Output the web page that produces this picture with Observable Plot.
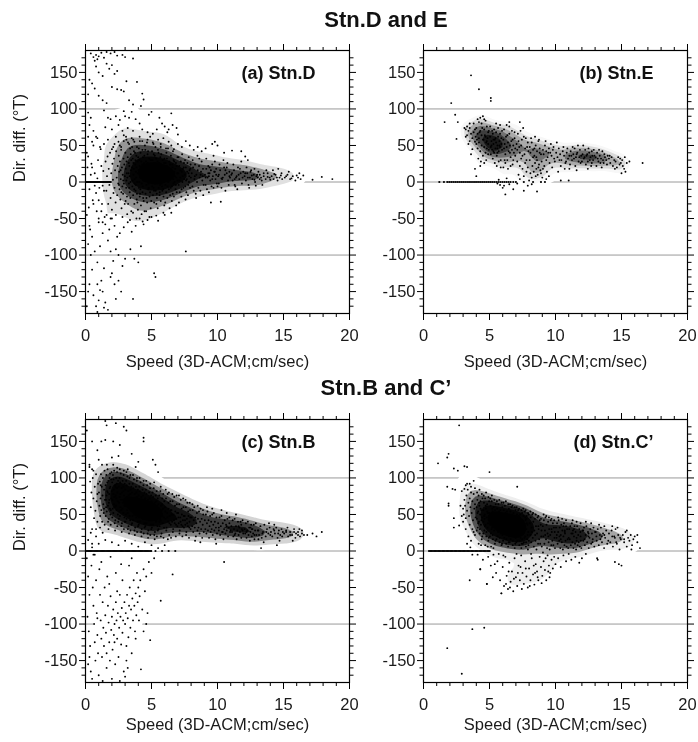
<!DOCTYPE html>
<html>
<head>
<meta charset="utf-8">
<script src="https://cdn.jsdelivr.net/npm/d3@7"></script>
<script src="https://cdn.jsdelivr.net/npm/@observablehq/plot@0.6"></script>
<style>
  body { margin: 0; background: #fff; font-family: "Liberation Sans", Arial, sans-serif; }
  #wrap { position: relative; width: 698px; height: 742px; overflow: hidden; background: #fff; }
  .title { position: absolute; left: 0; width: 772px; text-align: center; font-weight: bold; font-size: 22px; line-height: 26px; color: #111; }
  .panel { position: absolute; }
  .panel svg { display: block; max-width: none; background: transparent; }
</style>
</head>
<body>
<div id="wrap">
  <div class="title" style="top:7px">Stn.D and E</div>
  <div class="title" style="top:375px">Stn.B and C’</div>
  <div class="panel" id="pa" style="left:5px;top:38px"></div>
  <div class="panel" id="pb" style="left:343px;top:38px"></div>
  <div class="panel" id="pc" style="left:5px;top:407px"></div>
  <div class="panel" id="pd" style="left:343px;top:407px"></div>
</div>
<script>
// ---------- DATA (speed cm/s , direction difference deg) ----------
const titles = ["Stn.D and E", "Stn.B and C’"];
const panelLabels = ["(a) Stn.D", "(b) Stn.E", "(c) Stn.B", "(d) Stn.C’"];
const xTitle = "Speed (3D-ACM;cm/sec)";
const yTitle = "Dir. diff. (°T)";
const majorX = [0, 5, 10, 15, 20];
const minorX = [1, 2, 3, 4, 6, 7, 8, 9, 11, 12, 13, 14, 16, 17, 18, 19];
const majorY = [-150, -100, -50, 0, 50, 100, 150];
const minorY = [-170, -160, -140, -130, -120, -110, -90, -80, -70, -60, -40, -30, -20, -10, 10, 20, 30, 40, 60, 70, 80, 90, 110, 120, 130, 140, 160, 170];
const gridY = [-100, 0, 100];

const stnDZero = [0.03,0.1,0.17,0.24,0.31,0.38,0.45,0.52,0.59,0.66,0.73,0.8,0.87,0.94,1.01,1.08,1.15,1.22,1.29,1.36,1.43,1.5,1.57,1.64,1.71,1.78,1.85,1.92];
const stnEZero = [1.2,1.55,1.8,1.95,2.1,2.25,2.4,2.55,2.7,2.85,3.0,3.15,3.3,3.45,3.6,3.75,3.9,4.05,4.2,4.35,4.5,4.65,4.8,4.95,5.1,5.25,5.4,5.55,5.7,5.85,6.0,6.15,6.3,6.45,6.6,6.8,7.0,7.6,8.3,8.9,9.2];
const stnBZero = [0.03,0.12,0.21,0.3,0.39,0.48,0.57,0.66,0.75,0.84,0.93,1.02,1.11,1.2,1.29,1.38,1.47,1.56,1.65,1.74,1.83,1.92,2.01,2.1,2.19,2.28,2.37,2.46,2.55,2.64,2.73,2.82,2.91,3.0,3.09,3.18,3.27,3.36,3.45,3.54,3.63,3.72,3.81,3.9,3.99,4.08,4.17,4.26,4.35,4.44,4.53,4.62,4.71,4.8,4.89,4.98,5.3,5.8,6.3,6.8];
const stnCZero = [0.42,0.52,0.62,0.72,0.82,0.92,1.02,1.12,1.22,1.32,1.42,1.52,1.62,1.72,1.82,1.92,2.02,2.12,2.22,2.32,2.42,2.52,2.62,2.72,2.82,2.92,3.02,3.12,3.22,3.32,3.42,3.52,3.62,3.72,3.82,3.92,4.02,4.12,4.22,4.32,4.42,4.52,4.62,4.72,4.82,4.92,5.02];

const stnD = `
0.4,176 0.6,171 0.7,166 0.8,174 0.9,168 1.0,172 1.2,177 1.4,170 1.6,178 1.9,176 2.2,178 2.4,173 2.8,174 3.0,171 3.6,169
0.3,140 0.5,135 0.8,158 1.0,150 1.3,145 1.6,162 1.8,155 2.0,160 2.2,148 2.4,152 3.1,138 3.9,137
0.2,120 0.7,128 1.0,118 1.3,112 1.6,108 2.0,130 2.4,127 2.7,126 2.9,124 3.3,112 3.6,106 4.3,121 4.4,113 4.2,104 3.5,96 2.9,97
0.2,95 0.4,88 0.3,78 0.2,62 0.6,70 1.4,98 1.7,88 1.9,86 2.3,90 2.6,85 3.0,90 3.3,88 3.8,86 4.1,80 4.8,92 5.0,96 5.6,88 6.5,94 5.8,80 6.0,76 6.3,72 6.6,78 6.9,74 1.5,75 2.0,72 2.5,78 2.8,70 3.2,74 3.6,70 4.3,72 4.7,68 5.1,66 5.4,72 6.2,68 7.0,65
0.5,55 0.9,60 1.1,48 1.4,52 1.7,58 2.0,45 2.3,62 2.5,55 2.7,48 2.9,64 3.1,58 3.3,52 3.5,60 3.7,55 3.9,48 4.1,62 4.3,56 4.5,50 4.7,58 4.9,62 5.1,54 5.3,48 5.5,58 5.7,52 5.9,60 6.1,46 6.3,55 6.5,50 6.7,45 7.0,52 7.3,48 7.6,56 7.9,50 8.2,44 8.5,48 8.8,42 9.1,46 9.6,52 9.8,55 10.0,50 10.5,40 11.1,43 11.8,42 12.1,35 12.3,30
1.52,28 1.58,-12 1.63,8 1.67,35 1.72,-30 1.76,18 1.81,-4 1.86,40 1.9,-22 1.95,12 2.0,-38 2.04,25 2.08,3 2.12,-15 2.16,32 2.2,-8 2.24,16 2.28,-28 2.32,42 2.36,6 2.4,-18 2.44,22 2.48,-2 2.1,48 2.3,-45 1.9,-50 2.2,52
2.52,36 2.55,14 2.58,-10 2.61,28 2.64,-24 2.67,4 2.7,44 2.73,-36 2.76,20 2.79,-6 2.82,10 2.85,-16 2.88,32 2.91,-2 2.94,24 2.97,-30 2.6,50 2.8,-48 2.9,56 2.53,-4 2.66,16 2.72,-14 2.86,2 2.98,8
3.02,40 3.05,18 3.08,-8 3.11,28 3.14,-20 3.17,6 3.2,34 3.23,-30 3.26,12 3.29,-2 3.32,22 3.35,-14 3.38,46 3.41,0 3.44,16 3.47,-40 3.04,-26 3.1,2 3.16,-44 3.22,54 3.28,26 3.34,8 3.4,-22 3.46,30 3.13,12 3.31,-8 3.43,38 3.07,62 3.37,-52
3.52,20 3.55,-6 3.58,32 3.61,-18 3.64,10 3.67,42 3.7,-30 3.73,4 3.76,24 3.79,-12 3.82,14 3.85,36 3.88,-24 3.91,0 3.94,28 3.97,-38 3.53,48 3.6,-42 3.66,18 3.72,-2 3.78,30 3.84,6 3.9,-16 3.96,12 3.56,2 3.63,26 3.69,-10 3.75,40 3.81,-4 3.87,20 3.93,-28 3.99,34 3.62,58 3.86,-50
4.02,16 4.05,-8 4.08,30 4.11,-20 4.14,6 4.17,40 4.2,-32 4.23,12 4.26,-2 4.29,24 4.32,-14 4.35,34 4.38,2 4.41,-26 4.44,18 4.47,-40 4.04,46 4.1,22 4.16,-10 4.22,28 4.28,8 4.34,-6 4.4,14 4.46,36 4.07,0 4.13,-16 4.19,20 4.25,-44 4.31,44 4.37,-22 4.43,26 4.49,4 4.12,56 4.33,-54
4.52,10 4.55,-16 4.58,28 4.61,-4 4.64,20 4.67,-28 4.7,38 4.73,6 4.76,-10 4.79,16 4.82,32 4.85,-20 4.88,2 4.91,24 4.94,-36 4.97,12 4.53,44 4.59,-40 4.65,8 4.71,26 4.77,-2 4.83,18 4.89,-14 4.95,30 4.56,4 4.62,-22 4.68,14 4.74,42 4.8,-8 4.86,22 4.92,0 4.98,-26 4.66,54 4.84,-48
5.02,18 5.05,-6 5.08,30 5.11,-18 5.14,8 5.17,38 5.2,-28 5.23,14 5.26,0 5.29,24 5.32,-12 5.35,32 5.38,4 5.41,-22 5.44,20 5.47,-36 5.04,42 5.1,10 5.16,-8 5.22,26 5.28,-2 5.34,16 5.4,-16 5.46,28 5.07,2 5.13,22 5.19,-12 5.25,36 5.31,6 5.37,-30 5.43,12 5.49,44 5.15,52 5.36,-46
5.52,12 5.55,-8 5.58,26 5.61,-18 5.64,4 5.67,34 5.7,-26 5.73,16 5.76,-2 5.79,22 5.82,-12 5.85,30 5.88,6 5.91,-20 5.94,18 5.97,-32 5.53,40 5.59,8 5.65,-4 5.71,24 5.77,2 5.83,14 5.89,-10 5.95,26 5.56,20 5.62,-14 5.68,10 5.74,38 5.8,-6 5.86,16 5.92,0 5.98,32 5.7,48 5.9,-42
6.02,14 6.05,-4 6.08,26 6.11,-14 6.14,6 6.17,32 6.2,-22 6.23,12 6.26,0 6.29,20 6.32,-10 6.35,28 6.38,4 6.41,-18 6.44,16 6.47,36 6.04,-28 6.1,8 6.16,22 6.22,-6 6.28,14 6.34,2 6.4,24 6.46,-8 6.13,40 6.37,-36 6.25,46
6.52,10 6.55,-6 6.58,24 6.61,-16 6.64,4 6.67,30 6.7,-20 6.73,14 6.76,0 6.79,18 6.82,-10 6.85,26 6.88,6 6.91,-14 6.94,12 6.97,34 6.54,-26 6.6,20 6.66,-2 6.72,28 6.78,8 6.84,-4 6.9,22 6.96,2 6.63,42 6.87,-32
7.02,12 7.06,-4 7.1,22 7.14,-14 7.18,6 7.22,28 7.26,-20 7.3,14 7.34,0 7.38,18 7.42,-8 7.46,26 7.04,34 7.12,2 7.2,16 7.28,-10 7.36,8 7.44,20 7.08,-28 7.32,38 7.48,4
7.52,10 7.56,-6 7.6,20 7.64,-14 7.68,4 7.72,26 7.76,-18 7.8,12 7.84,0 7.88,16 7.92,-8 7.96,24 7.54,30 7.62,2 7.7,14 7.78,-4 7.86,8 7.94,18 7.58,-24 7.82,34 7.98,6
8.05,12 8.1,-6 8.15,20 8.2,-12 8.25,4 8.3,24 8.35,-16 8.4,10 8.45,0 8.5,16 8.55,-8 8.6,22 8.65,6 8.7,-12 8.75,14 8.8,28 8.85,2 8.9,18 8.95,-4 8.12,30 8.38,-22 8.62,32 8.88,8 8.28,8 8.72,10 8.48,36 8.92,-18
9.05,10 9.1,-4 9.15,18 9.2,-10 9.25,6 9.3,22 9.35,-14 9.4,12 9.45,2 9.5,16 9.55,-6 9.6,24 9.65,8 9.7,-8 9.75,14 9.8,28 9.85,4 9.9,18 9.95,-2 9.15,32 9.5,-28 9.7,36 9.35,8 9.9,10
10.05,8 10.1,-2 10.2,16 10.3,-8 10.4,6 10.5,20 10.6,-12 10.7,12 10.8,2 10.9,14 10.15,24 10.35,4 10.55,10 10.75,26 10.95,6 10.25,-27 10.45,30 10.85,-4
11.05,10 11.15,2 11.25,16 11.35,-6 11.45,8 11.55,20 11.65,4 11.75,12 11.85,-2 11.95,14 11.2,24 11.5,-10 11.8,28 11.4,6 11.7,18
12.05,8 12.15,2 12.25,12 12.35,-4 12.45,6 12.55,16 12.65,4 12.75,10 12.85,0 12.95,8 12.2,20 12.5,14 12.8,18 12.4,-8 12.9,-5
13.05,6 13.2,10 13.35,2 13.5,8 13.65,4 13.8,12 13.95,6 13.1,14 13.4,-4 13.7,16 13.3,6
14.1,8 14.25,4 14.4,10 14.55,2 14.7,6 14.85,12 14.2,16 14.6,18 14.9,4
15.1,6 15.3,10 15.5,4 15.7,8 15.9,2 16.1,6 16.3,4 16.5,9 16.2,12 17.2,3 17.9,7 18.7,4 15.4,14
9.1,6 9.3,12 9.6,4 9.8,14 10.1,10 10.3,5 10.6,16 10.9,8 11.1,12 11.3,4 11.6,10 11.9,6 12.1,12 12.3,6 12.6,9 12.8,3 13.0,10 13.2,4 13.5,12 13.8,7 14.0,3 14.3,11 14.5,6 14.8,9 15.2,8 15.6,5 16.0,9 9.4,20 10.0,-6 10.7,20 11.3,-4
0.1,40 0.15,20 0.3,-10 0.45,25 0.55,-25 0.7,12 0.85,-40 0.95,30 1.05,-8 1.15,45 1.25,-30 1.35,15 1.45,-48 0.25,-35 0.6,50 0.9,5 1.2,22 1.4,-12 1.0,-55 0.8,62 0.35,-65 1.3,-5
0.1,-45 0.3,-60 0.2,-85 0.4,-100 0.5,-120 0.3,-140 0.6,-155 0.8,-170 0.9,-178 1.0,-162 1.1,-148 1.2,-135 1.3,-150 1.4,-172 1.5,-165 1.7,-175 0.7,-95 0.9,-110 1.1,-88 1.3,-70 1.5,-58 1.7,-80 1.9,-95 2.1,-108 2.3,-92 2.5,-100 2.0,-125 2.2,-140 2.5,-135 2.7,-150 2.3,-160 2.8,-115 3.0,-105 3.4,-92 3.6,-160 3.7,-105 4.2,-88 4.0,-110 2.6,-70 2.9,-62 3.2,-55 3.5,-68 3.8,-60 4.1,-50 4.4,-58 4.7,-52 5.0,-48 5.5,-53 6.0,-45 6.5,-42 5.2,-125 5.3,-130 7.6,-95 1.0,-50 1.2,-40 0.6,-30 0.8,-15 0.4,10 0.2,35 0.5,20 0.7,-5 1.0,-25 1.3,-55 1.6,-45 1.8,-65 2.0,-50 2.2,-60 2.4,-75 1.9,-130 0.9,-140 1.4,-118 0.5,-75 0.2,-150 0.1,-170
`;

const stnE = `
3.6,146 4.2,127 5.1,115 5.1,111 2.1,108 2.4,92 2.6,82 1.6,82 2.5,59 3.9,18 4.0,8 7.3,82 6.5,82
5.6,-2 5.8,-4 6.0,-8 6.2,-17 6.1,-5 6.5,-3 6.8,-10 7.1,-2 7.6,-12 7.9,-5 8.2,-3 8.6,-13 5.7,3 6.3,5 7.3,4 8.0,2 9.0,6 9.3,4 10.4,2 11.0,2
3.1,74 3.2,72 3.3,76 3.4,70 3.5,74 3.3,64 3.6,66 3.7,60 3.5,56 3.2,62 3.8,68 3.9,72 3.4,52 3.7,45 3.6,38 3.9,55 3.8,80 3.95,62 3.5,80
4.1,86 4.3,88 4.5,90 4.6,86 4.7,84 4.2,82 4.4,80 4.0,74 4.1,66 4.2,60 4.3,70 4.4,64 4.5,58 4.6,72 4.7,62 4.8,56 4.9,68 4.0,52 4.1,46 4.2,54 4.3,42 4.4,50 4.5,36 4.6,48 4.7,40 4.8,46 4.9,52 4.15,32 4.35,28 4.55,58 4.75,54 4.95,44 4.25,68 4.65,64 4.85,60 4.45,74 4.05,58 4.9,38 4.3,22 4.6,26 4.8,76 4.95,70 4.75,30
5.05,62 5.1,48 5.15,56 5.2,44 5.25,66 5.3,52 5.35,40 5.4,58 5.45,46 5.5,54 5.55,36 5.6,50 5.65,62 5.7,42 5.75,56 5.8,48 5.85,30 5.9,52 5.95,44 5.05,76 5.2,70 5.35,72 5.5,68 5.65,74 5.8,66 5.95,70 5.1,38 5.25,32 5.4,26 5.55,22 5.7,28 5.85,20 5.15,50 5.3,58 5.45,60 5.6,46 5.75,50 5.9,60 5.5,80 5.8,78 5.3,42 5.6,40
6.05,58 6.1,46 6.15,52 6.2,38 6.25,62 6.3,48 6.35,30 6.4,54 6.45,42 6.5,66 6.55,50 6.6,34 6.65,56 6.7,44 6.75,24 6.8,50 6.85,40 6.9,60 6.95,46 6.1,72 6.3,78 6.5,76 6.7,70 6.9,68 6.2,26 6.4,18 6.6,22 6.8,30 6.05,20 6.35,64 6.75,58 6.95,36 6.55,40 6.15,30
7.05,52 7.1,44 7.2,56 7.3,40 7.4,50 7.5,36 7.6,62 7.7,46 7.8,30 7.9,54 7.15,66 7.35,70 7.55,74 7.75,60 7.95,42 7.1,28 7.3,22 7.5,18 7.7,26 7.9,20 7.25,48 7.45,58 7.65,38 7.85,48 7.4,32 7.8,14 7.2,10 7.6,8
8.05,48 8.1,40 8.2,54 8.3,44 8.4,36 8.5,50 8.6,42 8.7,56 8.8,46 8.9,38 8.15,60 8.45,62 8.75,58 8.05,30 8.25,22 8.35,14 8.45,26 8.55,18 8.65,10 8.75,24 8.85,16 8.95,28 8.1,12 8.5,8 8.7,20 8.9,12 8.3,34 8.6,30 8.4,46 8.8,40 8.2,6 8.55,34
9.05,44 9.1,38 9.2,50 9.3,42 9.4,34 9.5,46 9.6,40 9.7,36 9.8,44 9.9,32 9.15,22 9.35,14 9.55,26 9.75,20 9.95,28 9.25,56 9.65,52 9.45,40 9.85,48 9.05,18 9.5,8 9.3,30
10.05,40 10.15,34 10.25,46 10.35,38 10.45,30 10.55,42 10.65,36 10.75,26 10.85,40 10.95,32 10.1,54 10.4,22 10.7,18 10.9,46 10.2,14 10.6,48 10.3,30 10.8,28
11.05,36 11.15,42 11.25,30 11.35,38 11.45,46 11.55,34 11.65,40 11.75,28 11.85,44 11.95,36 11.1,24 11.3,48 11.5,22 11.7,50 11.9,26 11.2,36 11.4,32 11.6,38 11.8,34 11.05,18 11.6,16
12.05,38 12.15,32 12.25,44 12.35,36 12.45,28 12.55,40 12.65,34 12.75,42 12.85,30 12.95,36 12.1,50 12.3,24 12.5,46 12.7,22 12.9,44 12.2,34 12.4,38 12.6,30 12.8,36 12.0,28 12.45,18 12.75,26
13.05,34 13.15,40 13.25,28 13.35,36 13.45,32 13.55,42 13.65,26 13.75,34 13.85,30 13.95,36 13.1,22 13.3,44 13.5,20 13.7,38 13.9,24 13.2,32 13.6,30 13.4,26
14.05,32 14.15,26 14.25,34 14.35,22 14.45,30 14.55,28 14.65,20 14.75,34 14.85,24 14.95,26 14.1,36 14.5,18 14.9,32 15.05,30 15.1,22 15.2,18 15.3,14 15.4,26 15.6,28 15.25,34 15.0,12 16.6,26
`;

const stnB = `
1.5,178 1.6,172 2.3,175 2.9,170 3.1,165 0.1,165 0.5,150 0.9,138 1.2,150 1.5,152 2.1,150 2.6,145 3.5,133 4.4,155 4.4,150 0.3,118 0.5,112 1.0,125 2.0,128 2.5,130 3.2,112 3.8,115 4.0,122 5.1,125 5.3,118 5.5,108
0.35,95 0.4,60 0.45,80 0.5,30 0.55,100 0.6,72 0.65,45 0.7,88 0.75,55 0.8,105 0.85,68 0.9,40 0.95,92 0.4,25 0.6,110 0.8,20 0.3,115 0.5,10 0.7,-5 0.9,78
1.02,80 1.05,62 1.08,95 1.11,48 1.14,72 1.17,105 1.2,56 1.23,88 1.26,40 1.29,76 1.32,100 1.35,64 1.38,52 1.41,84 1.44,110 1.47,70 1.1,32 1.3,25 1.45,36 1.25,118 1.15,90 1.4,58
1.52,90 1.55,70 1.58,104 1.61,54 1.64,82 1.67,112 1.7,62 1.73,96 1.76,44 1.79,78 1.82,100 1.85,58 1.88,88 1.91,36 1.94,72 1.97,108 1.53,48 1.59,76 1.65,94 1.71,40 1.77,66 1.83,86 1.89,50 1.95,98 1.56,60 1.62,118 1.68,80 1.74,30 1.8,70 1.86,106 1.92,56 1.98,82
2.02,94 2.05,70 2.08,104 2.11,52 2.14,84 2.17,110 2.2,60 2.23,90 2.26,42 2.29,76 2.32,100 2.35,56 2.38,86 2.41,34 2.44,68 2.47,96 2.03,46 2.09,78 2.15,64 2.21,38 2.27,88 2.33,72 2.39,108 2.45,50 2.06,58 2.12,98 2.18,74 2.24,28 2.3,62 2.36,92 2.42,80 2.48,40 2.1,118 2.4,114
2.52,88 2.55,66 2.58,100 2.61,48 2.64,78 2.67,106 2.7,56 2.73,86 2.76,38 2.79,70 2.82,96 2.85,52 2.88,82 2.91,30 2.94,62 2.97,92 2.53,44 2.59,74 2.65,60 2.71,34 2.77,80 2.83,66 2.89,104 2.95,46 2.56,54 2.62,94 2.68,70 2.74,26 2.8,58 2.86,88 2.92,76 2.98,40 2.6,112 2.9,110
3.02,84 3.05,62 3.08,96 3.11,44 3.14,74 3.17,102 3.2,52 3.23,82 3.26,34 3.29,66 3.32,92 3.35,48 3.38,78 3.41,28 3.44,58 3.47,88 3.03,40 3.09,70 3.15,56 3.21,30 3.24,60 3.27,76 3.33,100 3.39,42 3.45,66 3.06,50 3.12,90 3.18,64 3.3,24 3.36,72 3.42,84 3.48,36 3.1,108 3.4,104
3.52,80 3.55,58 3.58,92 3.61,42 3.64,70 3.67,98 3.7,50 3.73,78 3.76,32 3.79,62 3.82,88 3.85,46 3.88,74 3.91,26 3.94,56 3.97,84 3.53,38 3.59,66 3.65,52 3.71,28 3.77,72 3.83,60 3.89,96 3.95,40 3.56,48 3.62,86 3.68,62 3.74,22 3.8,54 3.86,80 3.92,68 3.98,34 3.6,104 3.9,100
4.02,76 4.05,56 4.08,88 4.11,40 4.14,66 4.17,94 4.2,48 4.23,74 4.26,30 4.29,58 4.32,84 4.35,44 4.38,70 4.41,24 4.44,52 4.47,80 4.03,36 4.09,62 4.15,50 4.21,26 4.27,68 4.33,56 4.39,90 4.45,38 4.06,46 4.12,82 4.18,60 4.24,20 4.3,50 4.36,76 4.42,64 4.48,32 4.1,100 4.4,96
4.52,72 4.55,52 4.58,84 4.61,38 4.64,62 4.67,90 4.7,46 4.73,70 4.76,28 4.79,56 4.82,80 4.85,42 4.88,66 4.91,22 4.94,50 4.97,76 4.53,34 4.59,60 4.65,48 4.71,24 4.77,64 4.83,54 4.89,86 4.95,36 4.56,44 4.62,78 4.68,58 4.74,18 4.8,48 4.86,72 4.92,60 4.98,30 4.6,96 4.9,92
5.02,68 5.05,50 5.08,80 5.11,36 5.14,58 5.17,86 5.2,44 5.23,66 5.26,26 5.29,52 5.32,76 5.35,40 5.38,62 5.41,20 5.44,48 5.47,72 5.03,32 5.09,56 5.15,46 5.21,22 5.27,60 5.33,52 5.39,82 5.45,34 5.06,42 5.12,74 5.18,54 5.24,16 5.3,46 5.36,68 5.42,56 5.48,28 5.2,94
5.52,64 5.55,46 5.58,76 5.61,34 5.64,56 5.67,82 5.7,42 5.73,62 5.76,24 5.79,50 5.82,72 5.85,38 5.88,58 5.91,18 5.94,46 5.97,68 5.53,30 5.59,52 5.65,44 5.71,20 5.77,56 5.83,48 5.89,78 5.95,32 5.6,40 5.8,64 5.7,88
6.02,60 6.06,44 6.1,72 6.14,32 6.18,52 6.22,78 6.26,40 6.3,58 6.34,22 6.38,48 6.42,68 6.46,36 6.04,54 6.12,28 6.2,46 6.28,66 6.36,38 6.44,56 6.08,84 6.32,80 6.48,18 6.24,16
6.52,56 6.56,40 6.6,68 6.64,30 6.68,50 6.72,74 6.76,38 6.8,54 6.84,20 6.88,44 6.92,64 6.96,34 6.54,50 6.62,26 6.7,42 6.78,62 6.86,36 6.94,52 6.58,78 6.9,76
7.02,52 7.06,38 7.1,64 7.14,28 7.18,46 7.22,70 7.26,36 7.3,50 7.34,20 7.38,42 7.42,60 7.46,32 7.04,46 7.12,24 7.2,40 7.28,58 7.36,34 7.44,48 7.08,76 7.4,72
7.52,48 7.56,36 7.6,60 7.64,26 7.68,44 7.72,66 7.76,34 7.8,48 7.84,18 7.88,40 7.92,56 7.96,30 7.54,42 7.62,22 7.7,38 7.78,54 7.86,32 7.94,46 7.58,70 7.9,66
8.04,46 8.08,34 8.12,56 8.16,26 8.2,42 8.24,60 8.28,32 8.32,46 8.36,20 8.4,38 8.44,52 8.48,28 8.52,44 8.56,32 8.6,54 8.64,24 8.68,40 8.72,58 8.76,30 8.8,44 8.84,18 8.88,36 8.92,50 8.96,26 8.1,64 8.5,62 8.9,56 8.3,14 8.7,12
9.04,42 9.08,30 9.12,50 9.16,24 9.2,38 9.24,54 9.28,28 9.32,42 9.36,18 9.4,34 9.44,48 9.48,26 9.52,40 9.56,30 9.6,50 9.64,22 9.68,36 9.72,52 9.76,28 9.8,40 9.84,16 9.88,32 9.92,46 9.96,24 9.2,60 9.6,58 9.9,10
10.05,38 10.1,28 10.15,46 10.2,22 10.25,34 10.3,48 10.35,26 10.4,38 10.45,16 10.5,30 10.55,42 10.6,24 10.65,36 10.7,28 10.75,44 10.8,20 10.85,32 10.9,46 10.95,26 10.3,56 10.7,52 10.5,-15
11.05,34 11.1,26 11.15,42 11.2,20 11.25,30 11.3,44 11.35,24 11.4,34 11.45,16 11.5,28 11.55,40 11.6,22 11.65,32 11.7,26 11.75,40 11.8,18 11.85,30 11.9,42 11.95,24 11.4,50
12.05,30 12.1,24 12.15,38 12.2,18 12.25,28 12.3,40 12.35,22 12.4,32 12.45,14 12.5,26 12.55,36 12.6,20 12.65,30 12.7,24 12.75,36 12.8,16 12.85,28 12.9,38 12.95,22
13.05,28 13.15,22 13.25,34 13.35,18 13.45,26 13.55,36 13.65,20 13.75,30 13.85,24 13.95,32 13.1,16 13.5,12 13.9,38 13.3,4
14.05,26 14.15,20 14.25,30 14.35,24 14.45,32 14.55,18 14.65,28 14.75,22 14.85,30 14.95,26 14.3,36 14.7,14 14.5,8
15.05,24 15.2,28 15.35,20 15.5,26 15.65,22 15.8,30 15.95,24 16.1,26 16.25,20 16.4,28 16.55,22 15.3,32 15.9,18 16.2,30 16.8,22 17.2,24 17.5,20 17.9,26 15.7,14
10.1,32 10.4,26 10.7,34 11.0,28 11.3,22 11.6,34 11.9,28 12.2,26 12.5,32 12.8,22 13.1,28 13.4,24 13.7,26 14.0,22 14.3,28 14.6,24 14.9,20 15.2,26 15.5,22 15.8,26 16.1,22 16.4,24 10.9,38 11.8,36 12.6,30
0.2,15 0.5,5 1.0,10 1.5,15 2.0,12 2.5,8 3.0,14 3.5,10 4.0,6 4.5,12 5.0,8 5.5,4 6.0,8 0.8,30
0.1,-10 0.2,-35 0.3,-60 0.15,-90 0.25,-110 0.35,-130 0.4,-165 0.5,-175 0.2,-155 0.45,-20 0.55,-50 0.6,-75 0.65,-100 0.7,-125 0.75,-150 0.8,-40 0.85,-85 0.9,-115 0.95,-140 1.0,-170 1.05,-25 1.1,-60 1.15,-95 1.2,-120 1.25,-145 1.3,-70 1.35,-105 1.4,-130 1.45,-50 1.5,-88 1.55,-112 1.6,-160 1.65,-35 1.7,-75 1.75,-98 1.8,-125 1.85,-150 1.9,-62 1.95,-108 2.0,-90 2.05,-135 2.1,-80 2.15,-115 2.2,-100 2.25,-155 2.3,-70 2.35,-95 2.4,-120 2.45,-85 2.5,-145 2.55,-105 2.6,-60 2.65,-90 2.7,-128 2.75,-78 2.8,-112 2.85,-95 2.9,-165 2.95,-70 3.0,-100 3.05,-85 3.1,-130 3.15,-60 3.2,-92 3.25,-118 3.3,-75 3.35,-50 3.4,-105 3.45,-80 3.5,-140 3.55,-65 3.6,-95 3.65,-40 3.7,-75 3.75,-110 3.8,-58 3.85,-88 3.9,-30 3.95,-70 4.0,-50 4.05,-95 4.1,-62 4.15,-40 4.2,-162 4.3,-80 4.4,-25 4.5,-55 4.6,-35 4.7,-85 4.8,-15 4.9,-122 5.0,-30 5.2,-10 5.7,-68 6.6,-32 1.2,-15 1.8,-45 2.3,-30 2.8,-40 3.3,-20 0.6,-5 2.0,-175 3.0,-172 2.6,-178 3.2,-160 1.3,-178 2.4,-55 1.6,-140 0.3,-145 0.9,-92 2.2,-125 3.1,-150 3.8,-120 2.7,-18 3.5,-10 1.9,-8 4.4,-110 4.6,-100
`;

const stnC = `
2.7,172 1.1,120 1.8,128 1.9,133 2.3,113 2.6,110 3.1,116 3.3,115 5.0,108 1.8,88 2.2,85 2.4,84 2.9,82 3.2,90 3.5,92 3.8,96 7.1,88 1.9,62 1.9,65 2.3,45 2.3,32 3.7,-5 3.5,-40 3.7,-107 4.6,-105 1.8,-133 2.9,-168 4.3,-25 4.8,-45 5.9,-58
3.0,58 3.05,50 3.1,70 3.15,62 3.2,45 3.25,76 3.3,55 3.35,84 3.4,66 3.45,48 3.5,72 3.55,60 3.6,88 3.65,52 3.7,68 3.75,42 3.8,78 3.85,58 3.9,64 3.95,46 3.0,40 3.2,30 3.4,20 3.6,14 3.8,26 3.1,85 3.3,92 3.6,80 3.9,86 2.8,62 2.9,48 2.7,35 3.5,36 3.7,30 3.9,22 3.3,10 3.55,5
4.02,60 4.05,44 4.08,70 4.11,32 4.14,54 4.17,76 4.2,40 4.23,62 4.26,24 4.29,50 4.32,68 4.35,36 4.38,56 4.41,16 4.44,46 4.47,72 4.03,28 4.09,52 4.15,38 4.21,66 4.27,30 4.33,58 4.39,42 4.45,20 4.06,80 4.24,84 4.42,78 4.18,10 4.36,8
4.52,56 4.55,40 4.58,66 4.61,28 4.64,50 4.67,72 4.7,36 4.73,58 4.76,20 4.79,46 4.82,64 4.85,32 4.88,52 4.91,14 4.94,42 4.97,68 4.53,24 4.59,48 4.65,34 4.71,62 4.77,26 4.83,54 4.89,38 4.95,18 4.56,76 4.74,80 4.92,74 4.68,8 4.86,6 4.62,44
5.02,52 5.05,36 5.08,62 5.11,24 5.14,46 5.17,68 5.2,32 5.23,54 5.26,16 5.29,42 5.32,60 5.35,28 5.38,48 5.41,10 5.44,38 5.47,64 5.03,20 5.09,44 5.15,30 5.21,58 5.24,22 5.27,40 5.33,50 5.39,34 5.45,14 5.06,72 5.18,76 5.36,70 5.12,6 5.3,4 5.42,56
5.52,48 5.55,32 5.58,58 5.61,20 5.64,42 5.67,64 5.7,28 5.73,50 5.76,12 5.79,38 5.82,56 5.85,24 5.88,44 5.91,8 5.94,34 5.97,60 5.53,16 5.59,40 5.65,26 5.71,54 5.77,18 5.83,46 5.89,30 5.95,10 5.56,68 5.74,70 5.92,66 5.62,36 5.8,52 5.98,22
6.02,46 6.05,30 6.08,56 6.11,18 6.14,40 6.17,62 6.2,26 6.23,48 6.26,10 6.29,36 6.32,54 6.35,22 6.38,42 6.41,6 6.44,32 6.47,58 6.03,14 6.09,38 6.15,24 6.21,52 6.27,16 6.33,44 6.39,28 6.45,12 6.06,66 6.24,68 6.42,64 6.12,34 6.3,50 6.48,20
6.52,44 6.55,28 6.58,54 6.61,16 6.64,38 6.67,60 6.7,24 6.73,46 6.76,8 6.79,34 6.82,52 6.85,20 6.88,40 6.91,4 6.94,30 6.97,56 6.53,12 6.59,36 6.65,22 6.71,50 6.77,14 6.83,42 6.89,26 6.95,10 6.56,64 6.74,62 6.92,60 6.62,32 6.8,48 6.98,18
7.02,42 7.05,26 7.08,50 7.11,14 7.14,36 7.17,56 7.2,22 7.23,44 7.26,8 7.29,32 7.32,50 7.35,18 7.38,38 7.41,4 7.44,28 7.47,52 7.03,12 7.09,34 7.15,20 7.21,48 7.27,14 7.33,40 7.39,24 7.45,10 7.06,60 7.24,58 7.42,56 7.12,30 7.3,46 7.48,16
7.52,40 7.55,24 7.58,48 7.61,12 7.64,34 7.67,54 7.7,20 7.73,42 7.76,6 7.79,30 7.82,48 7.85,16 7.88,36 7.91,2 7.94,26 7.97,50 7.53,10 7.59,32 7.65,18 7.71,46 7.77,12 7.83,38 7.89,22 7.95,8 7.56,58 7.74,56 7.92,52 7.62,28 7.8,44 7.98,14
8.04,38 8.08,22 8.12,46 8.16,12 8.2,32 8.24,50 8.28,18 8.32,40 8.36,6 8.4,28 8.44,44 8.48,14 8.52,34 8.56,2 8.6,24 8.64,46 8.68,10 8.72,30 8.76,16 8.8,42 8.84,10 8.88,36 8.92,20 8.96,6 8.1,54 8.3,52 8.5,50 8.7,48 8.9,44 8.22,26 8.46,22 8.7,34 8.94,28
9.04,34 9.08,20 9.12,42 9.16,10 9.2,28 9.24,46 9.28,16 9.32,36 9.36,4 9.4,24 9.44,40 9.48,12 9.52,30 9.56,2 9.6,22 9.64,42 9.68,8 9.72,26 9.76,14 9.8,38 9.84,8 9.88,32 9.92,18 9.96,4 9.1,50 9.3,48 9.5,46 9.7,44 9.9,42 9.22,22 9.46,20 9.7,30 9.94,26
10.04,32 10.08,18 10.12,38 10.16,10 10.2,26 10.24,42 10.28,14 10.32,32 10.36,4 10.4,22 10.44,36 10.48,12 10.52,28 10.56,2 10.6,20 10.64,38 10.68,8 10.72,24 10.76,14 10.8,34 10.84,6 10.88,30 10.92,16 10.96,4 10.2,46 10.5,44 10.8,42 10.3,20 10.7,26
11.04,30 11.08,16 11.12,34 11.16,8 11.2,24 11.24,38 11.28,12 11.32,28 11.36,4 11.4,20 11.44,34 11.48,10 11.52,26 11.56,2 11.6,18 11.64,34 11.68,8 11.72,22 11.76,12 11.8,30 11.84,6 11.88,26 11.92,14 11.96,4 11.3,42 11.6,40 11.9,38
12.04,28 12.1,14 12.16,32 12.22,8 12.28,22 12.34,34 12.4,12 12.46,26 12.52,4 12.58,18 12.64,30 12.7,10 12.76,24 12.82,16 12.88,32 12.94,6 12.3,40 12.7,38 12.5,20
13.05,26 13.12,14 13.2,30 13.28,8 13.36,22 13.44,32 13.52,12 13.6,24 13.68,4 13.76,18 13.84,28 13.92,10 13.3,36 13.7,34 13.5,20 13.2,-12 13.15,-10
14.05,24 14.15,12 14.25,28 14.35,6 14.45,20 14.55,30 14.65,10 14.75,22 14.85,2 14.95,16 14.3,34 14.7,32 14.5,18 14.5,-15 14.8,-18 15.0,-20
15.1,22 15.2,12 15.3,26 15.4,6 15.5,18 15.6,14 15.7,22 15.8,8 15.9,16 16.0,20 16.2,12 15.75,2 16.4,4 16.2,22 15.4,28
10.1,22 10.4,16 10.7,28 11.0,18 11.3,24 11.6,14 11.9,20 12.2,16 12.5,24 12.8,12 13.1,20 13.4,16 13.7,22 14.0,14 14.3,20 14.6,12 14.9,18 15.2,16 10.6,34 11.4,30 12.1,28 13.0,26
4.1,-5 4.3,-25 4.5,-12 4.8,-45 4.9,-8 5.1,-20 5.3,-5 5.5,-30 5.6,-14 5.8,-40 5.9,-58 6.0,-22 6.1,-48 6.2,-8 6.3,-34 6.4,-52 6.5,-16 6.6,-42 6.7,-28 6.8,-55 6.9,-10 7.0,-36 7.1,-48 7.2,-20 7.3,-40 7.4,-6 7.5,-30 7.6,-45 7.7,-14 7.8,-35 7.9,-50 8.0,-24 8.1,-40 8.2,-10 8.3,-32 8.4,-46 8.5,-18 8.6,-28 8.7,-40 8.8,-8 8.9,-22 9.0,-34 9.1,-14 9.2,-26 9.3,-40 9.4,-6 9.5,-20 9.6,-30 9.7,-12 9.8,-24 9.9,-8 10.0,-18 10.2,-10 10.4,-22 10.6,-6 10.8,-14 11.0,-4 11.2,-12 11.5,-8 11.8,-16 12.0,-10 12.3,-4
6.25,-45 6.55,-50 6.85,-38 7.15,-30 7.45,-52 7.75,-24 8.05,-48 8.35,-20 8.65,-36 8.95,-44 9.25,-10 9.55,-36 5.4,-18 5.7,-4 6.05,-6 7.05,-4 8.15,-4 9.05,-2 5.25,-36 6.45,-28 7.35,-22 8.45,-30 9.45,-28
`;

// ---------- helpers ----------
function parse(s) {
  return s.trim().split(/\s+/).map(p => { const [x, y] = p.split(",").map(Number); return {x, y}; });
}
const onZero = xs => xs.map(x => ({x, y: 0}));

const FONT = "Liberation Sans, Arial, Helvetica, sans-serif";

// shading of dense cores (style only): bandwidth px, low cut-off, ramp exponent, darkest tone
const shadeA = {bw: 7, cut: 0.22, exp: 0.85, dark: "black"};
const shadeB = {bw: 5, cut: 0.2, exp: 1.3, dark: "#666"};
const shadeC = {bw: 6.5, cut: 0.2, exp: 0.8, dark: "black"};
const shadeD = {bw: 6.5, cut: 0.26, exp: 0.8, dark: "black"};

function panel(el, pts, zero, label, showYTitle, xTitleDy, shade) {
  const ramp = d3.interpolateRgb("white", shade.dark);
  const marks = [
    Plot.ruleY(gridY, {stroke: "#9a9a9a", strokeWidth: 1}),
    Plot.density(pts, {x: "x", y: "y", bandwidth: shade.bw, thresholds: 8, fill: "density", stroke: "none", mixBlendMode: "multiply", clip: true}),
    Plot.dot(pts, {x: "x", y: "y", r: 0.95, fill: "black", stroke: "none", clip: true}),
    Plot.dot(zero, {x: "x", y: "y", r: 1.1, fill: "black", stroke: "none", clip: true}),
    Plot.frame({stroke: "black", strokeWidth: 1.2}),
    Plot.axisX(majorX, {anchor: "bottom", tickSize: 7, tickPadding: 9, fontSize: 16.5, fill: "#1a1a1a", label: null}),
    Plot.axisX(minorX, {anchor: "bottom", tickSize: 4, tickFormat: () => "", label: null}),
    Plot.axisX(majorX, {anchor: "top", tickSize: 7, tickFormat: () => "", label: null}),
    Plot.axisX(minorX, {anchor: "top", tickSize: 4, tickFormat: () => "", label: null}),
    Plot.axisY(majorY, {anchor: "left", tickSize: 6, tickPadding: 2, fontSize: 16.5, fill: "#1a1a1a", tickFormat: d => String(d), label: null}),
    Plot.axisY(minorY, {anchor: "left", tickSize: 3.5, tickFormat: () => "", label: null}),
    Plot.axisY(majorY, {anchor: "right", tickSize: 6, tickFormat: () => "", label: null}),
    Plot.axisY(minorY, {anchor: "right", tickSize: 3.5, tickFormat: () => "", label: null}),
    Plot.text([label], {frameAnchor: "top-right", dx: -34, dy: 23, text: d => d, fontWeight: "bold", fontSize: 18, fill: "#111", lineAnchor: "middle", textAnchor: "end"}),
    Plot.text([xTitle], {frameAnchor: "bottom", dy: xTitleDy, text: d => d, fontSize: 16.5, fill: "#1a1a1a", lineAnchor: "middle"})
  ];
  if (showYTitle) {
    marks.push(Plot.text([yTitle], {frameAnchor: "left", dx: -66, rotate: -90, text: d => d, fontSize: 16.5, fill: "#1a1a1a", lineAnchor: "middle"}));
  }
  const chart = Plot.plot({
    width: 354, height: 327,
    marginLeft: 80, marginRight: 10, marginTop: 12, marginBottom: 52,
    style: {fontFamily: FONT, background: "transparent", overflow: "visible"},
    x: {domain: [0, 20], label: null},
    y: {domain: [-180, 180], label: null},
    color: {type: "linear", interpolate: t => ramp(Math.pow(Math.max(0, (t - shade.cut) / (1 - shade.cut)), shade.exp))},
    marks
  });
  document.getElementById(el).appendChild(chart);
}

panel("pa", parse(stnD), onZero(stnDZero), panelLabels[0], true, 48, shadeA);
panel("pb", parse(stnE), onZero(stnEZero), panelLabels[1], false, 48, shadeB);
panel("pc", parse(stnB), onZero(stnBZero), panelLabels[2], true, 42, shadeC);
panel("pd", parse(stnC), onZero(stnCZero), panelLabels[3], false, 42, shadeD);
</script>
</body>
</html>
